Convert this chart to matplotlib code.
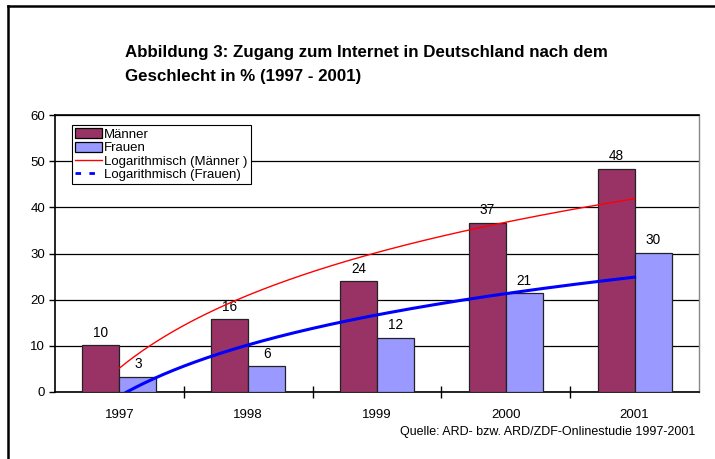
import numpy as np
import matplotlib
matplotlib.use("Agg")
import matplotlib.pyplot as plt
from matplotlib.lines import Line2D
from matplotlib.patches import Patch

plt.rcParams['font.family'] = ['Liberation Sans', 'DejaVu Sans']

years = ["1997", "1998", "1999", "2000", "2001"]
maenner = [10.1, 15.8, 24.0, 36.7, 48.4]
frauen = [3.3, 5.6, 11.7, 21.4, 30.2]
title_lines = ["Abbildung 3: Zugang zum Internet in Deutschland nach dem",
               "Geschlecht in % (1997 - 2001)"]
source = "Quelle: ARD- bzw. ARD/ZDF-Onlinestudie 1997-2001"

c_m = "#993366"
c_f = "#9999FF"

fig = plt.figure(figsize=(7.15, 4.59), dpi=100)
ax = fig.add_axes([55/715, 1-392/459, 644/715, (392-115)/459])

x = np.arange(len(years))
w = 0.287
ax.bar(x - w/2, maenner, w, color=c_m, edgecolor="#222222", linewidth=0.9, zorder=3)
ax.bar(x + w/2, frauen, w, color=c_f, edgecolor="#222222", linewidth=0.9, zorder=3)

for xi, v in zip(x - w/2, maenner):
    ax.annotate(f"{v:.0f}", (xi, v), xytext=(0, 4), textcoords="offset points",
                ha="center", va="bottom", fontsize=9.8)
for xi, v in zip(x + w/2, frauen):
    ax.annotate(f"{v:.0f}", (xi, v), xytext=(0, 4), textcoords="offset points",
                ha="center", va="bottom", fontsize=9.8)

# logarithmic trendlines (fit y = a ln(n) + b, n = 1..5)
n = np.arange(1, len(years) + 1)
xs = np.linspace(1, len(years), 200)
am, bm_ = np.polyfit(np.log(n), maenner, 1)
af, bf_ = np.polyfit(np.log(n), frauen, 1)
ax.plot(xs - 1, am * np.log(xs) + bm_, color="#FF0000", lw=1.0, zorder=4)
ax.plot(xs - 1, af * np.log(xs) + bf_, color="#0000FF", lw=2.2, zorder=4)

ax.set_xlim(-0.5, len(years) - 0.5)
ax.set_ylim(0, 60)
ax.set_yticks(range(0, 61, 10))
ax.yaxis.grid(True, color="black", lw=0.9, zorder=0)
ax.set_axisbelow(True)
ax.set_xticks(x)
ax.set_xticklabels(years, fontsize=9.5)
ax.set_xticks(np.arange(0.5, len(years) - 0.5, 1), minor=True)
ax.tick_params(axis="x", which="major", length=0, pad=12)
ax.tick_params(axis="x", which="minor", length=8, direction="inout", width=1)
ax.tick_params(axis="y", length=4, direction="out", width=1, labelsize=9.5, pad=3)

for s in ["left", "bottom", "top"]:
    ax.spines[s].set_color("black")
    ax.spines[s].set_linewidth(1.2)
ax.spines["right"].set_color("#888888")
ax.spines["right"].set_linewidth(1.0)

handles = [
    Patch(facecolor=c_m, edgecolor="black", linewidth=0.9, label="Männer"),
    Patch(facecolor=c_f, edgecolor="black", linewidth=0.9, label="Frauen"),
    Line2D([], [], color="#FF0000", lw=1.0, label="Logarithmisch (Männer )"),
    Line2D([], [], color="#0000FF", lw=2.0, ls=(0, (2, 3)), label="Logarithmisch (Frauen)"),
]
leg = ax.legend(handles=handles, loc="upper left", bbox_to_anchor=(17/644, 1 - 10/277),
                fontsize=9.5, frameon=True, fancybox=False, edgecolor="black",
                framealpha=1, borderpad=0.25, labelspacing=0.05, handlelength=2.0,
                handletextpad=0.2, borderaxespad=0.0, handleheight=0.8)
leg.get_frame().set_linewidth(0.8)
leg.set_zorder(5)

fig.text(125/715, 1 - 53/459, title_lines[0], fontsize=12.2, fontweight="bold",
         ha="left", va="center")
fig.text(125/715, 1 - 76/459, title_lines[1], fontsize=12.2, fontweight="bold",
         ha="left", va="center")
fig.text(695/715, 1 - 432/459, source, fontsize=9, ha="right", va="center")

# outer border (top and left visible)
fig.add_artist(Line2D([8/715, 1.0], [1 - 5.5/459, 1 - 5.5/459], color="black", lw=1.8,
                      transform=fig.transFigure))
fig.add_artist(Line2D([8/715, 8/715], [0, 1 - 5.5/459], color="black", lw=1.8,
                      transform=fig.transFigure))

fig.savefig("out.png", dpi=100)
